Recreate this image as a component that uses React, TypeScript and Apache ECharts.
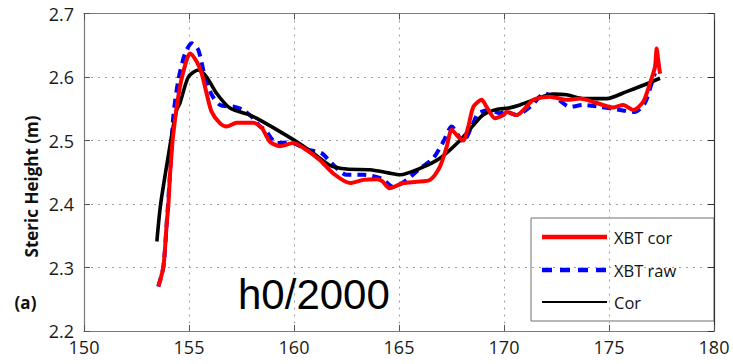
import React, { useEffect, useRef } from "react";
import * as echarts from "echarts";

const xTicks = [150, 155, 160, 165, 170, 175, 180];
const yTicks = [2.2, 2.3, 2.4, 2.5, 2.6, 2.7];

const seriesNames = ["XBT cor", "XBT raw", "Cor"];

const xbtCor: [number, number][] = [
  [153.54, 2.27], [153.78, 2.301], [153.94, 2.37], [154.02, 2.4], [154.1, 2.448], [154.25, 2.51],
  [154.57, 2.585], [154.89, 2.627], [155.05, 2.637], [155.37, 2.624], [155.6, 2.606],
  [155.84, 2.574], [156.08, 2.545], [156.48, 2.527], [156.79, 2.522], [157.27, 2.528],
  [158.06, 2.528], [158.46, 2.52], [158.86, 2.498], [159.33, 2.491], [159.97, 2.496],
  [160.6, 2.485], [161.24, 2.469], [161.87, 2.448], [162.67, 2.433], [163.3, 2.438],
  [163.94, 2.439], [164.2, 2.436], [164.55, 2.425], [165.2, 2.433], [165.84, 2.435],
  [166.48, 2.438], [166.95, 2.459], [167.27, 2.49], [167.51, 2.517], [167.82, 2.506],
  [168.06, 2.5], [168.3, 2.522], [168.54, 2.553], [168.94, 2.564], [169.17, 2.553],
  [169.57, 2.535], [169.97, 2.54], [170.13, 2.545], [170.6, 2.54], [171.4, 2.564],
  [172.19, 2.569], [172.98, 2.564], [173.62, 2.566], [174.41, 2.559], [175.2, 2.552],
  [175.68, 2.556], [176.16, 2.548], [176.63, 2.561], [176.95, 2.59], [177.19, 2.616],
  [177.27, 2.645], [177.35, 2.625], [177.43, 2.605],
];

const xbtRaw: [number, number][] = [
  [153.54, 2.27], [153.78, 2.301], [153.94, 2.37], [154.1, 2.45], [154.25, 2.537],
  [154.49, 2.595], [154.81, 2.637], [155.13, 2.653], [155.44, 2.643], [155.76, 2.6],
  [156.08, 2.572], [156.48, 2.556], [157.19, 2.553], [157.59, 2.548], [158.06, 2.535],
  [158.38, 2.522], [158.62, 2.517], [159.17, 2.496], [159.81, 2.497], [160.6, 2.486],
  [161.32, 2.48], [161.79, 2.464], [162.51, 2.446], [163.3, 2.446], [164.17, 2.44],
  [164.73, 2.427], [165.37, 2.438], [166.0, 2.456], [166.63, 2.472], [167.11, 2.498],
  [167.51, 2.522], [168.06, 2.498], [168.46, 2.522], [168.78, 2.543], [169.33, 2.548],
  [169.8, 2.543], [170.13, 2.545], [170.6, 2.54], [171.24, 2.553], [171.95, 2.574],
  [172.51, 2.566], [173.14, 2.553], [173.78, 2.556], [174.57, 2.553], [175.37, 2.549],
  [176.24, 2.545], [176.71, 2.559], [177.03, 2.59], [177.19, 2.606],
];

const cor: [number, number][] = [
  [153.47, 2.341], [153.65, 2.4], [154.06, 2.485], [154.25, 2.522], [154.41, 2.548],
  [154.57, 2.559], [154.97, 2.6], [155.44, 2.611], [155.84, 2.6], [156.32, 2.574],
  [156.95, 2.551], [157.9, 2.54], [158.38, 2.532], [159.33, 2.514], [160.13, 2.498],
  [160.92, 2.48], [161.71, 2.461], [162.51, 2.455], [163.62, 2.454], [164.49, 2.449],
  [165.05, 2.446], [166.0, 2.456], [166.95, 2.472], [167.9, 2.5], [168.54, 2.524],
  [169.0, 2.54], [169.65, 2.549], [170.2, 2.551], [170.76, 2.556], [171.4, 2.564],
  [172.35, 2.573], [172.98, 2.572], [173.78, 2.566], [174.89, 2.566], [175.84, 2.577],
  [176.63, 2.587], [177.43, 2.598],
];

const FONT = "'Open Sans', 'DejaVu Sans', sans-serif";

export default function App() {
  const ref = useRef<HTMLDivElement>(null);
  useEffect(() => {
    if (!ref.current) return;
    const chart = echarts.init(ref.current, null, { renderer: "svg" });
    const axisColor = "#7a7a7a";
    const gridLine = { show: true, lineStyle: { type: [2, 5] as any, color: "#a0a0a0", width: 1 } };
    const xBase = {
      type: "value" as const,
      min: xTicks[0],
      max: xTicks[xTicks.length - 1],
      interval: 5,
    };
    const yBase = {
      type: "value" as const,
      min: yTicks[0],
      max: yTicks[yTicks.length - 1],
      interval: 0.1,
    };
    const legendX = 531, legendY = 218;
    const rows = [19, 52, 84];
    const legendStyles = [
      { stroke: "#ff0000", lineWidth: 4.5, lineDash: null as any },
      { stroke: "#0000ff", lineWidth: 4.5, lineDash: [10, 8] },
      { stroke: "#000000", lineWidth: 2, lineDash: null as any },
    ];
    chart.setOption({
      animation: false,
      backgroundColor: "#ffffff",
      grid: { left: 84, right: 19, top: 13.5, bottom: 33, containLabel: false },
      xAxis: [
        {
          ...xBase,
          position: "bottom",
          axisLine: { onZero: false, lineStyle: { color: axisColor, width: 1.2 } },
          axisTick: { inside: true, length: 6, lineStyle: { color: "#555" } },
          axisLabel: { color: "#1a1a1a", fontSize: 18, fontFamily: FONT, margin: 7 },
          splitLine: gridLine,
        },
        {
          ...xBase,
          position: "top",
          axisLine: { onZero: false, lineStyle: { color: axisColor, width: 1.2 } },
          axisTick: { inside: true, length: 6, lineStyle: { color: "#555" } },
          axisLabel: { show: false },
          splitLine: { show: false },
        },
      ],
      yAxis: [
        {
          ...yBase,
          position: "left",
          axisLine: { show: true, onZero: false, lineStyle: { color: axisColor, width: 1.2 } },
          axisTick: { show: true, inside: true, length: 6, lineStyle: { color: "#555" } },
          axisLabel: {
            color: "#1a1a1a", fontSize: 18, fontFamily: FONT, margin: 10,
            formatter: (v: number) => v.toFixed(1),
          },
          splitLine: gridLine,
        },
        {
          ...yBase,
          position: "right",
          axisLine: { show: true, onZero: false, lineStyle: { color: "#333", width: 1.2 } },
          axisTick: { show: true, inside: true, length: 6, lineStyle: { color: "#333" } },
          axisLabel: { show: false },
          splitLine: { show: false },
        },
      ],
      series: [
        {
          name: seriesNames[0], type: "line", data: xbtCor, symbol: "none", smooth: 0.25,
          xAxisIndex: 0, yAxisIndex: 0, z: 4,
          lineStyle: { color: "#ff0000", width: 4 },
        },
        {
          name: seriesNames[1], type: "line", data: xbtRaw, symbol: "none", smooth: 0.25,
          xAxisIndex: 0, yAxisIndex: 0, z: 2,
          lineStyle: { color: "#0000ff", width: 4, type: [9, 6] },
        },
        {
          name: seriesNames[2], type: "line", data: cor, symbol: "none", smooth: 0.25,
          xAxisIndex: 0, yAxisIndex: 0, z: 3,
          lineStyle: { color: "#000000", width: 3.6 },
        },
      ],
      graphic: [
        {
          type: "text", x: 31, y: 186.5, rotation: Math.PI / 2,
          style: {
            text: "Steric Height (m)", fill: "#111", font: `bold 17px ${FONT}`,
            textAlign: "center", textVerticalAlign: "middle", align: "center", verticalAlign: "middle",
          },
        },
        {
          type: "text", x: 25.5, y: 302.5,
          style: {
            text: "(a)", fill: "#111", font: `bold 17px ${FONT}`,
            textAlign: "center", textVerticalAlign: "middle", align: "center", verticalAlign: "middle",
          },
        },
        {
          type: "text", x: 238, y: 294.3, z: 10,
          style: {
            text: "h0/2000", fill: "#000", font: `42px 'Liberation Sans', Arial, sans-serif`,
            textAlign: "left", textVerticalAlign: "middle", align: "left", verticalAlign: "middle",
          },
        },
        {
          type: "group", x: legendX, y: legendY, z: 20,
          children: [
            {
              type: "rect", shape: { x: 0, y: 0, width: 183, height: 103 },
              style: { fill: "#ffffff", stroke: "#707070", lineWidth: 1 },
            },
            ...seriesNames.flatMap((name, i) => [
              {
                type: "line",
                shape: { x1: 11, y1: rows[i], x2: 76, y2: rows[i] },
                style: { stroke: legendStyles[i].stroke, lineWidth: legendStyles[i].lineWidth, lineDash: legendStyles[i].lineDash },
              },
              {
                type: "text", x: 83, y: rows[i],
                style: {
                  text: name, fill: "#111", font: `16.5px ${FONT}`,
                  textAlign: "left", textVerticalAlign: "middle", align: "left", verticalAlign: "middle",
                },
              },
            ]),
          ],
        },
      ],
    });
    return () => chart.dispose();
  }, []);
  return (
    <div
      ref={ref}
      style={{ position: "fixed", left: 0, top: 0, width: 733, height: 364, background: "#fff" }}
    />
  );
}
